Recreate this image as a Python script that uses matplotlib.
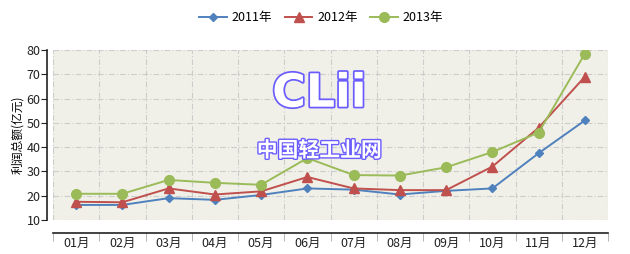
import matplotlib
matplotlib.use("Agg")
import matplotlib.pyplot as plt
import matplotlib.patheffects as pe

plt.rcParams['font.family'] = ['Noto Sans CJK SC', 'DejaVu Sans']

# dados
meses = ["01月", "02月", "03月", "04月", "05月", "06月",
         "07月", "08月", "09月", "10月", "11月", "12月"]
v2011 = [16.2, 16.2, 19.0, 18.3, 20.3, 23.0, 22.5, 20.5, 22.0, 23.0, 37.5, 51.0]
v2012 = [17.5, 17.3, 23.0, 20.5, 21.8, 27.7, 23.0, 22.3, 22.3, 32.0, 48.0, 69.0]
v2013 = [20.8, 20.8, 26.5, 25.3, 24.5, 35.5, 28.5, 28.3, 31.7, 38.0, 46.0, 78.5]
series = ["2011年", "2012年", "2013年"]

fig = plt.figure(figsize=(6.3, 2.54), dpi=100)
ax = fig.add_axes([53 / 630, 1 - 220 / 254, 555 / 630, 170 / 254])
ax.set_facecolor("#f0f0e8")

x = range(len(meses))
ax.plot(x, v2011, color="#4f81bd", marker="D", markersize=4.5, lw=1.4, label=series[0])
ax.plot(x, v2012, color="#c0504d", marker="^", markersize=6.5, lw=1.4, label=series[1])
ax.plot(x, v2013, color="#9bbb59", marker="o", markersize=7, lw=1.4, label=series[2])

ax.set_xlim(-0.5, 11.5)
ax.set_ylim(10, 80)
ax.set_yticks(range(10, 81, 10))
ax.set_xticks(list(x))
ax.set_xticklabels(meses)
ax.set_xticks([i - 0.5 for i in range(13)], minor=True)

ax.grid(True, which="major", axis="y", color="#cccccc", ls=(0, (5, 2, 1, 2)), lw=0.8)
ax.grid(True, which="minor", axis="x", color="#cccccc", ls=(0, (5, 2, 1, 2)), lw=0.8)
ax.set_axisbelow(True)

for s in ["top", "right"]:
    ax.spines[s].set_visible(False)
ax.spines["left"].set_position(("outward", 4))
ax.spines["bottom"].set_position(("outward", 9))
ax.spines["left"].set_color("#222222")
ax.spines["bottom"].set_color("#222222")
ax.spines["left"].set_linewidth(1.2)
ax.spines["bottom"].set_linewidth(1.2)

ax.tick_params(axis="x", which="major", length=0, labelsize=9, pad=3, colors="#222222")
ax.tick_params(axis="x", which="minor", length=6, color="#aaaaaa")
ax.tick_params(axis="y", length=4, labelsize=9, pad=1, colors="#222222")

ax.set_ylabel("利润总额(亿元)", fontsize=8.5, labelpad=2)

# marca d'água
contorno = [pe.withStroke(linewidth=2.5, foreground="#6a5cff")]
ax.text(0.48, 0.74, "CLii", transform=ax.transAxes, ha="center", va="center",
        fontsize=33, fontweight="bold", color="white", path_effects=contorno,
        family=["DejaVu Sans"], zorder=5)
ax.text(0.48, 0.41, "中国轻工业网", transform=ax.transAxes, ha="center", va="center",
        fontsize=15, fontweight="bold", color="white",
        path_effects=[pe.withStroke(linewidth=2, foreground="#6a5cff")], zorder=5)

fig.legend(loc="center", bbox_to_anchor=(0.51, 0.93), ncol=3, frameon=False,
           fontsize=9, handlelength=2.2, columnspacing=1.0, handletextpad=0.4)

fig.savefig("out.png", dpi=100)
